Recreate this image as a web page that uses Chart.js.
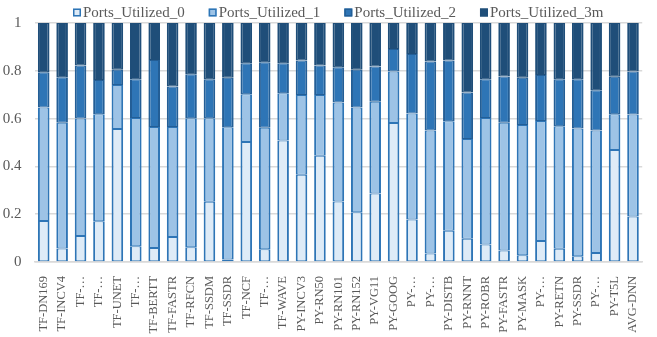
<!DOCTYPE html>
<html>
<head>
<meta charset="utf-8">
<script src="https://cdn.jsdelivr.net/npm/chart.js@4.4.1/dist/chart.umd.min.js"></script>
<style>
  html, body { margin: 0; padding: 0; background: #ffffff; overflow: hidden; }
  canvas { display: block; }
</style>
</head>
<body>
<canvas id="chart" width="662" height="337"></canvas>
<script>
// Workloads along the x axis
const categories = [
  'TF-DN169', 'TF-INCV4', 'TF-…', 'TF-…', 'TF-UNET', 'TF-…', 'TF-BERTT', 'TF-FASTR',
  'TF-RFCN', 'TF-SSDM', 'TF-SSDR', 'TF-NCF', 'TF-…', 'TF-WAVE', 'PY-INCV3', 'PY-RN50',
  'PY-RN101', 'PY-RN152', 'PY-VG11', 'PY-GOOG', 'PY-…', 'PY-…', 'PY-DISTB', 'PY-RNNT',
  'PY-ROBR', 'PY-FASTR', 'PY-MASK', 'PY-…', 'PY-RETN', 'PY-SSDR', 'PY-…', 'PY-T5L', 'AVG-DNN'
];

const seriesNames = ['Ports_Utilized_0', 'Ports_Utilized_1', 'Ports_Utilized_2', 'Ports_Utilized_3m'];

// Fraction of cycles per port-utilization bucket
const ports0 = [0.172, 0.056, 0.109, 0.171, 0.557, 0.066, 0.059, 0.105, 0.062, 0.252, 0.010,
  0.502, 0.053, 0.508, 0.365, 0.445, 0.253, 0.208, 0.287, 0.582, 0.178, 0.036,
  0.131, 0.097, 0.073, 0.048, 0.028, 0.088, 0.055, 0.024, 0.038, 0.469, 0.190];
const ports1 = [0.474, 0.527, 0.491, 0.447, 0.184, 0.537, 0.506, 0.460, 0.539, 0.349, 0.554,
  0.200, 0.509, 0.198, 0.334, 0.254, 0.414, 0.438, 0.384, 0.215, 0.443, 0.514,
  0.458, 0.418, 0.530, 0.535, 0.545, 0.502, 0.513, 0.535, 0.512, 0.149, 0.427];
const ports2 = [0.148, 0.190, 0.222, 0.143, 0.063, 0.162, 0.280, 0.169, 0.185, 0.164, 0.207,
  0.130, 0.274, 0.126, 0.144, 0.123, 0.148, 0.158, 0.147, 0.094, 0.249, 0.289,
  0.254, 0.194, 0.162, 0.193, 0.198, 0.192, 0.197, 0.206, 0.169, 0.157, 0.180];
const ports3m = [0.206, 0.227, 0.178, 0.239, 0.196, 0.235, 0.155, 0.266, 0.214, 0.235, 0.229,
  0.168, 0.164, 0.168, 0.157, 0.178, 0.185, 0.196, 0.182, 0.109, 0.130, 0.161,
  0.157, 0.291, 0.235, 0.224, 0.229, 0.218, 0.235, 0.235, 0.281, 0.225, 0.203];

const yTicks = [0, 0.2, 0.4, 0.6, 0.8, 1];

const fills   = ['#DEEBF7', '#9DC3E6', '#2E75B6', '#1F4E79'];
const borders = ['#2E75B6', '#2E75B6', '#235E96', '#1F4E79'];
const textColor = '#595959';
const serif = '"Liberation Serif", "Times New Roman", serif';

const seriesValues = [ports0, ports1, ports2, ports3m];

// Legend row drawn above the plot
const seriesLegend = {
  id: 'seriesLegend',
  afterDraw(chart) {
    const ctx = chart.ctx;
    ctx.save();
    ctx.font = '15px ' + serif;
    ctx.textBaseline = 'middle';
    ctx.textAlign = 'left';
    const y = 12.5;
    let x = 73;
    chart.data.datasets.forEach(ds => {
      ctx.fillStyle = ds.backgroundColor;
      ctx.fillRect(x, y - 4, 8, 8);
      ctx.strokeStyle = ds.borderColor;
      ctx.lineWidth = 1.5;
      ctx.strokeRect(x + 0.75, y - 3.25, 6.5, 6.5);
      ctx.fillStyle = textColor;
      ctx.fillText(ds.label, x + 10, y + 1);
      x += 10 + ctx.measureText(ds.label).width + 24;
    });
    ctx.restore();
  }
};

new Chart(document.getElementById('chart'), {
  type: 'bar',
  data: {
    labels: categories,
    datasets: seriesNames.map((name, i) => ({
      label: name,
      data: seriesValues[i],
      backgroundColor: fills[i],
      borderColor: borders[i],
      borderWidth: { left: 2, right: 2, top: 1, bottom: 1 },
      borderSkipped: false,
      barPercentage: 0.63,
      categoryPercentage: 1.0
    }))
  },
  options: {
    responsive: false,
    animation: false,
    devicePixelRatio: 1,
    layout: { padding: { top: 23, left: 0, right: 0, bottom: 0 } },
    plugins: {
      legend: { display: false },
      tooltip: { enabled: false }
    },
    scales: {
      x: {
        stacked: true,
        grid: { display: false, drawTicks: false },
        border: { display: true, color: '#D9D9D9', width: 1.5 },
        ticks: {
          autoSkip: false,
          minRotation: 90,
          maxRotation: 90,
          padding: 14,
          color: textColor,
          font: { family: serif, size: 12.5 }
        },
        afterFit(scale) { scale.height = 75; }
      },
      y: {
        stacked: true,
        min: 0,
        max: 1,
        afterBuildTicks(scale) { scale.ticks = yTicks.map(v => ({ value: v })); },
        grid: { color: '#D9D9D9', lineWidth: 1.5, drawTicks: false },
        border: { display: false },
        ticks: {
          padding: 13,
          color: textColor,
          font: { family: serif, size: 15 },
          callback: v => String(Math.round(v * 10) / 10)
        },
        afterFit(scale) { scale.width = 34.5; }
      }
    }
  },
  plugins: [seriesLegend]
});
</script>
</body>
</html>
